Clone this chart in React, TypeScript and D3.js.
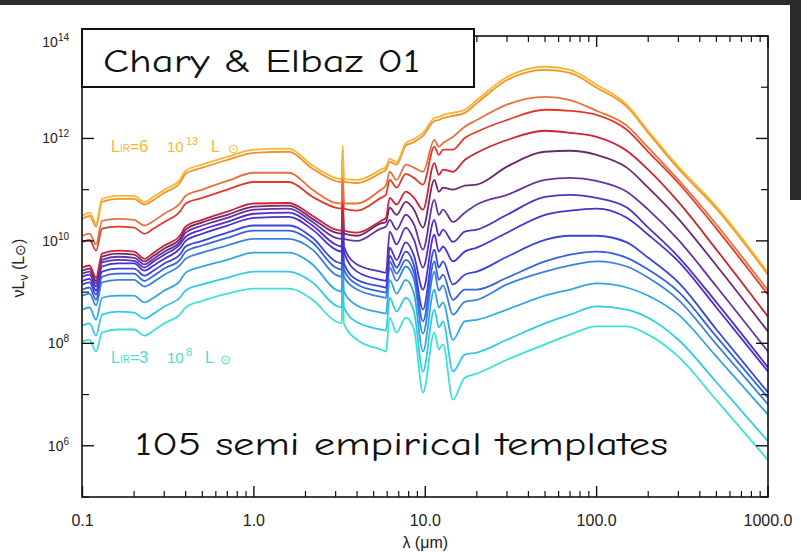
import React from 'react';
import * as d3 from 'd3';

// wavelength grid (micron) shared by all templates
const wavelengths = [0.1, 0.11, 0.12, 0.13, 0.16, 0.2, 0.23, 0.26, 0.3, 0.37, 0.4, 0.5, 0.7, 1.0, 1.6, 2.2, 3.0, 3.25, 3.3, 3.35, 4.0, 5.5, 5.9, 6.2, 6.8, 7.7, 8.6, 9.7, 11.3, 12.0, 12.7, 14.5, 17, 20, 30, 50, 70, 100, 150, 200, 300, 500, 1000];

// log10(nu L_nu / Lsun), brightest first
const sed01 = [10.49, 10.55, 10.34, 10.82, 10.88, 10.88, 10.76, 10.86, 11.00, 11.19, 11.37, 11.49, 11.64, 11.78, 11.80, 11.47, 11.23, 11.21, 11.86, 11.21, 11.19, 11.39, 11.45, 11.60, 11.54, 11.91, 11.99, 12.11, 12.40, 12.42, 12.46, 12.50, 12.56, 12.75, 13.20, 13.40, 13.34, 13.05, 12.66, 12.15, 11.45, 10.67, 9.38];
const sed02 = [10.43, 10.49, 10.28, 10.76, 10.82, 10.82, 10.71, 10.80, 10.94, 11.13, 11.31, 11.43, 11.58, 11.72, 11.74, 11.41, 11.17, 11.15, 11.78, 11.15, 11.13, 11.33, 11.39, 11.54, 11.49, 11.86, 11.93, 12.05, 12.34, 12.36, 12.40, 12.44, 12.50, 12.69, 13.14, 13.34, 13.28, 12.99, 12.62, 12.11, 11.41, 10.63, 9.34];
const sed03 = [10.10, 10.14, 9.93, 10.39, 10.43, 10.41, 10.30, 10.39, 10.53, 10.73, 10.88, 11.00, 11.17, 11.33, 11.33, 11.00, 10.74, 10.73, 11.39, 10.73, 10.73, 11.00, 11.08, 11.35, 11.19, 11.49, 11.43, 11.35, 11.97, 11.84, 11.91, 12.03, 12.23, 12.36, 12.66, 12.81, 12.75, 12.54, 12.25, 11.82, 11.19, 10.32, 9.03];
const sed04 = [9.98, 10.02, 9.81, 10.24, 10.28, 10.26, 10.14, 10.24, 10.37, 10.57, 10.73, 10.84, 11.00, 11.15, 11.15, 10.86, 10.65, 10.63, 11.27, 10.63, 10.59, 10.84, 10.90, 11.19, 11.04, 11.31, 11.23, 11.10, 11.84, 11.68, 11.78, 11.78, 12.01, 12.13, 12.36, 12.56, 12.54, 12.46, 12.17, 11.74, 11.13, 10.24, 8.95];
const sed05 = [9.48, 9.52, 9.28, 9.75, 9.81, 9.79, 9.65, 9.77, 9.91, 10.10, 10.28, 10.41, 10.57, 10.73, 10.74, 10.49, 10.22, 10.20, 10.88, 10.20, 10.16, 10.39, 10.45, 10.84, 10.71, 10.96, 10.84, 10.61, 11.52, 11.29, 11.39, 11.35, 11.58, 11.72, 11.97, 12.15, 12.11, 12.03, 11.76, 11.39, 10.76, 9.83, 8.52];
const sed06 = [9.42, 9.46, 9.22, 9.69, 9.75, 9.73, 9.60, 9.71, 9.85, 10.04, 10.22, 10.36, 10.51, 10.67, 10.69, 10.43, 10.16, 10.14, 10.84, 10.14, 10.10, 10.34, 10.37, 10.65, 10.51, 10.76, 10.61, 10.26, 11.19, 10.96, 11.04, 11.00, 11.08, 11.10, 11.45, 11.74, 11.76, 11.68, 11.43, 11.04, 10.43, 9.52, 8.23];
const sed07 = [9.36, 9.40, 9.17, 9.63, 9.69, 9.67, 9.54, 9.65, 9.79, 9.98, 10.16, 10.30, 10.45, 10.61, 10.63, 10.37, 10.06, 10.04, 10.74, 10.04, 10.00, 10.24, 10.28, 10.41, 10.22, 10.51, 10.32, 9.83, 10.80, 10.51, 10.61, 10.37, 10.55, 10.71, 10.90, 11.19, 11.23, 11.17, 10.96, 10.61, 10.02, 9.11, 7.84];
const sed08 = [9.30, 9.34, 9.11, 9.58, 9.63, 9.61, 9.48, 9.60, 9.73, 9.93, 10.08, 10.22, 10.37, 10.53, 10.55, 10.30, 9.93, 9.89, 10.57, 9.89, 9.54, 9.40, 9.38, 10.18, 9.93, 10.26, 10.02, 9.48, 10.41, 10.10, 10.22, 9.98, 10.18, 10.22, 10.51, 10.86, 10.90, 10.84, 10.65, 10.26, 9.69, 8.80, 7.53];
const sed09 = [9.22, 9.26, 9.03, 9.50, 9.56, 9.56, 9.42, 9.52, 9.65, 9.85, 10.00, 10.14, 10.30, 10.45, 10.47, 10.22, 9.83, 9.79, 10.45, 9.79, 9.40, 9.24, 9.22, 9.87, 9.63, 9.97, 9.71, 9.05, 10.12, 9.79, 9.89, 9.60, 9.79, 9.87, 10.16, 10.51, 10.59, 10.63, 10.45, 10.12, 9.60, 8.70, 7.45];
const sed10 = [9.15, 9.19, 8.95, 9.40, 9.46, 9.46, 9.32, 9.42, 9.56, 9.73, 9.89, 10.00, 10.16, 10.30, 10.30, 10.06, 9.60, 9.56, 10.22, 9.56, 9.24, 9.11, 9.09, 9.71, 9.48, 9.79, 9.52, 8.66, 9.83, 9.48, 9.60, 9.15, 9.34, 9.40, 9.69, 10.02, 10.10, 10.10, 9.97, 9.67, 9.19, 8.27, 7.04];
const sed11 = [9.05, 9.09, 8.85, 9.30, 9.36, 9.36, 9.22, 9.32, 9.46, 9.63, 9.79, 9.91, 10.06, 10.20, 10.20, 9.97, 9.48, 9.44, 10.10, 9.44, 9.15, 9.01, 8.99, 9.60, 9.36, 9.63, 9.38, 8.43, 9.60, 9.24, 9.34, 8.85, 9.05, 9.05, 9.28, 9.60, 9.73, 9.79, 9.67, 9.44, 9.01, 8.13, 6.94];
const sed12 = [8.93, 8.97, 8.74, 9.19, 9.24, 9.24, 9.11, 9.20, 9.34, 9.52, 9.65, 9.77, 9.91, 10.04, 10.04, 9.83, 9.34, 9.30, 9.95, 9.30, 9.05, 8.91, 8.89, 9.48, 9.22, 9.50, 9.24, 8.19, 9.40, 9.03, 9.13, 8.56, 8.81, 8.85, 9.15, 9.40, 9.52, 9.60, 9.50, 9.28, 8.85, 7.98, 6.81];
const sed13 = [8.66, 8.70, 8.46, 8.89, 8.93, 8.93, 8.80, 8.89, 9.03, 9.22, 9.38, 9.50, 9.63, 9.77, 9.77, 9.54, 9.05, 9.01, 9.67, 9.01, 8.74, 8.60, 8.58, 9.24, 8.97, 9.24, 8.97, 7.84, 9.05, 8.70, 8.80, 8.07, 8.43, 8.46, 8.66, 8.93, 9.05, 9.17, 9.09, 8.93, 8.56, 7.74, 6.61];
const sed14 = [8.35, 8.39, 8.15, 8.56, 8.62, 8.60, 8.48, 8.58, 8.72, 8.89, 9.03, 9.15, 9.28, 9.40, 9.40, 9.19, 8.74, 8.70, 9.40, 8.70, 8.41, 8.27, 8.25, 8.89, 8.62, 8.89, 8.62, 7.45, 8.66, 8.31, 8.43, 7.45, 7.78, 7.82, 8.07, 8.39, 8.56, 8.72, 8.66, 8.50, 8.07, 7.24, 6.09];
const sed15 = [8.04, 8.07, 7.84, 8.21, 8.27, 8.27, 8.15, 8.25, 8.39, 8.56, 8.70, 8.83, 8.97, 9.07, 9.07, 8.85, 8.43, 8.39, 9.05, 8.39, 8.07, 7.88, 7.84, 8.50, 8.21, 8.50, 8.27, 7.04, 8.21, 7.88, 7.98, 6.90, 7.33, 7.41, 7.68, 7.98, 8.17, 8.33, 8.33, 8.17, 7.74, 6.89, 5.72];

const templates = [sed01, sed02, sed03, sed04, sed05, sed06, sed07, sed08, sed09, sed10, sed11, sed12, sed13, sed14, sed15];
const lineColors = ['#f7b538', '#f29322', '#e8703e', '#e4382c', '#cc2336', '#6b2a6e', '#6634a0', '#5530bf', '#4a2fd6', '#3a44dd', '#3562e0', '#3a82e2', '#30a6e4', '#2fcbe6', '#3de3d2'];

const yLabelExps = [6, 8, 10, 12, 14];
const yMinorExps = [5, 7, 9, 11, 13];
const xMajor = [0.1, 1, 10, 100, 1000];
const xTickLabels = ['0.1', '1.0', '10.0', '100.0', '1000.0'];

const axisFont = '"Liberation Sans", Arial, Helvetica, sans-serif';
const handFont = '"Comic Sans MS", "Comic Neue", "DejaVu Sans", sans-serif';

function LumLabel({ x0, y0, color, mant, exp, lx, sx }: { x0: number; y0: number; color: string; mant: string; exp: string; lx: number; sx: number }) {
    return (
        <g fill={color} fontFamily={axisFont}>
            <text x={x0} y={y0} fontSize={16}>L</text>
            <text x={x0 + 9} y={y0} fontSize={10}>IR</text>
            <text x={x0 + 19} y={y0} fontSize={16}>={mant}</text>
            <text x={x0 + 56} y={y0} fontSize={15}>10</text>
            <text x={x0 + 75} y={y0 - 7} fontSize={11}>{exp}</text>
            <text x={lx} y={y0} fontSize={16}>L</text>
            <text x={sx} y={y0 + 1} fontSize={13}>⊙</text>
        </g>
    );
}

export default function App() {
    const width = 801;
    const height = 553;
    const plot = { left: 82, right: 768, top: 36, bottom: 497 };

    const x = d3.scaleLog().domain([0.1, 1000]).range([82.5, 768]);
    const y = d3.scaleLog().domain([1e5, 1e14]).range([497, 36]);

    const line = d3.line<number>()
        .x((_, i) => x(wavelengths[i]))
        .y(d => y(Math.pow(10, d)))
        .curve(d3.curveMonotoneX);

    const xMinor: number[] = [];
    [0.1, 1, 10, 100].forEach(dec => {
        d3.range(2, 10).forEach(m => xMinor.push(dec * m));
    });

    const order = d3.range(templates.length).reverse();

    return (
        <svg width={width} height={height}
            style={{ position: 'absolute', left: 0, top: 0, display: 'block' }}>
            <rect x={0} y={0} width={width} height={height} fill="#ffffff" />
            <rect x={0} y={0} width={width} height={5} fill="#2b2b2b" />
            <rect x={790} y={0} width={11} height={200} fill="#2b2b2b" />

            <defs>
                <clipPath id="plotClip">
                    <rect x={plot.left} y={plot.top} width={plot.right - plot.left} height={plot.bottom - plot.top} />
                </clipPath>
            </defs>

            <g clipPath="url(#plotClip)">
                {order.map(i => (
                    <path key={i} d={line(templates[i]) || ''} fill="none"
                        stroke={lineColors[i]} strokeWidth={1.8} strokeLinejoin="round" />
                ))}
            </g>

            {/* frame */}
            <rect x={plot.left} y={plot.top} width={plot.right - plot.left} height={plot.bottom - plot.top}
                fill="none" stroke="#111" strokeWidth={1.6} />

            {/* x ticks, bottom and top */}
            {xMajor.map(v => (
                <g key={'xM' + v}>
                    <line x1={x(v)} x2={x(v)} y1={plot.bottom} y2={plot.bottom - 11} stroke="#111" strokeWidth={1.4} />
                    <line x1={x(v)} x2={x(v)} y1={plot.top} y2={plot.top + 11} stroke="#111" strokeWidth={1.4} />
                </g>
            ))}
            {xMinor.map(v => (
                <g key={'xm' + v}>
                    <line x1={x(v)} x2={x(v)} y1={plot.bottom} y2={plot.bottom - 6} stroke="#111" strokeWidth={1.2} />
                    <line x1={x(v)} x2={x(v)} y1={plot.top} y2={plot.top + 6} stroke="#111" strokeWidth={1.2} />
                </g>
            ))}
            {xMajor.map((v, i) => (
                <text key={'xl' + v} x={x(v)} y={526} textAnchor="middle" fontFamily={axisFont}
                    fontSize={16} fill="#222">{xTickLabels[i]}</text>
            ))}
            <text x={x(10)} y={548} textAnchor="middle" fontFamily={axisFont} fontSize={16} fill="#222">
                λ (μm)
            </text>

            {/* y ticks, left and right */}
            {yLabelExps.map(e => (
                <g key={'yM' + e}>
                    <line x1={plot.left} x2={plot.left + 12} y1={y(Math.pow(10, e))} y2={y(Math.pow(10, e))} stroke="#111" strokeWidth={1.4} />
                    <line x1={plot.right} x2={plot.right - 12} y1={y(Math.pow(10, e))} y2={y(Math.pow(10, e))} stroke="#111" strokeWidth={1.4} />
                </g>
            ))}
            {yMinorExps.map(e => (
                <g key={'ym' + e}>
                    <line x1={plot.left} x2={plot.left + 7} y1={y(Math.pow(10, e))} y2={y(Math.pow(10, e))} stroke="#111" strokeWidth={1.2} />
                    <line x1={plot.right} x2={plot.right - 7} y1={y(Math.pow(10, e))} y2={y(Math.pow(10, e))} stroke="#111" strokeWidth={1.2} />
                </g>
            ))}
            {yLabelExps.map(e => (
                <text key={'yl' + e} x={69} y={y(Math.pow(10, e)) + (e === 14 ? 11 : 5)} textAnchor="end"
                    fontFamily={axisFont} fontSize={14} fill="#222">
                    <tspan>10</tspan>
                    <tspan dy={-6} fontSize={10}>{e}</tspan>
                </text>
            ))}
            <text transform="translate(24,268) rotate(-90)" textAnchor="middle" fontFamily={axisFont}
                fontSize={16} fill="#222">
                <tspan>νL</tspan>
                <tspan dy={4} fontSize={12}>ν</tspan>
                <tspan dy={-4}> (L</tspan>
                <tspan dy={1} fontSize={14}>⊙</tspan>
                <tspan dy={-1}>)</tspan>
            </text>

            {/* luminosity labels */}
            <LumLabel x0={111} y0={152} color={lineColors[0]} mant="6" exp="13" lx={211} sx={228} />
            <LumLabel x0={111} y0={363} color={lineColors[14]} mant="3" exp="8" lx={205} sx={220} />

            {/* title box */}
            <rect x={82} y={29} width={392} height={58} fill="#ffffff" stroke="#111" strokeWidth={2} />
            <text x={103} y={72} fontFamily={handFont} fontSize={32} fill="#111"
                textLength={317} lengthAdjust="spacingAndGlyphs">Chary &amp; Elbaz 01</text>

            <text x={135} y={455} fontFamily={handFont} fontSize={32} fill="#111"
                textLength={533} lengthAdjust="spacingAndGlyphs">105 semi empirical templates</text>
        </svg>
    );
}
